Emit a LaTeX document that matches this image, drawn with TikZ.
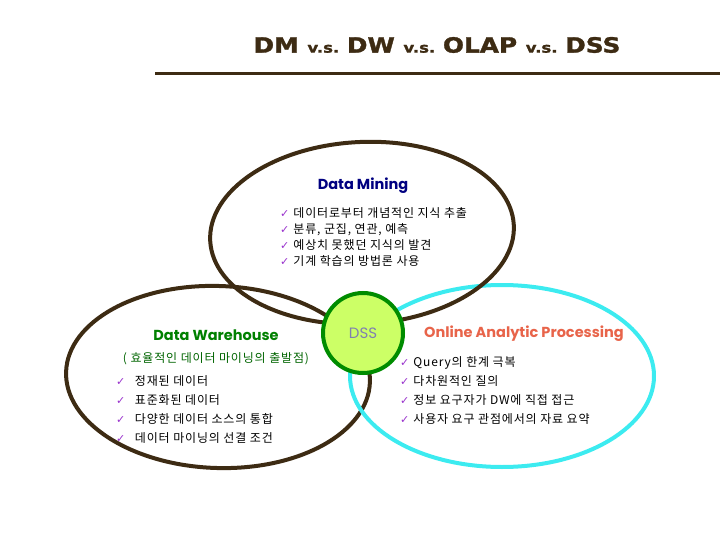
\documentclass[tikz,border=0pt]{standalone}
\usepackage{fontspec}
\usepackage{tikz}
\usetikzlibrary{positioning,shapes.geometric}
\newfontfamily\krfont[LetterSpace=7]{Noto Sans CJK KR}
\newfontfamily\headfont{Poppins}
\newfontfamily\titlefont[FakeStretch=1.18,FakeBold=1.5]{DejaVu Sans}
\newfontfamily\symfont{DejaVu Sans}
\definecolor{bark}{RGB}{61,43,19}
\definecolor{aqua}{RGB}{60,235,240}
\definecolor{leafline}{RGB}{0,140,0}
\definecolor{leaffill}{RGB}{204,255,102}
\definecolor{navyhead}{RGB}{0,0,128}
\definecolor{greenhead}{RGB}{0,128,0}
\definecolor{darkgreen}{RGB}{0,100,0}
\definecolor{coral}{RGB}{232,100,74}
\definecolor{dssgray}{RGB}{128,128,176}
\definecolor{tick}{RGB}{153,51,204}
\newcommand{\ck}[1][4pt]{{\symfont\fontsize{11}{11}\selectfont\color{tick}✓}\hspace{#1}}
\tikzset{
  ring/.style={ellipse,draw=bark,line width=4pt,minimum width=304pt,minimum height=182pt,inner sep=0pt},
  head/.style={font=\headfont\bfseries\fontsize{14.5}{17}\selectfont,inner sep=0pt},
  items/.style={font=\krfont\fontsize{12}{16}\selectfont,align=left,inner sep=0pt,anchor=north west},
}
\begin{document}
\begin{tikzpicture}[x=1pt,y=-1pt]
\useasboundingbox (0,0) rectangle (720,540);
% title
\node[font=\titlefont\bfseries,text=bark,inner sep=0pt] (title) at (437,45)
  {\fontsize{21}{24}\selectfont DM \fontsize{14}{16}\selectfont v.s. \fontsize{21}{24}\selectfont DW \fontsize{14}{16}\selectfont v.s. \fontsize{21}{24}\selectfont OLAP \fontsize{14}{16}\selectfont v.s. \fontsize{21}{24}\selectfont DSS};
\coordinate (rulel) at (155,74);
\coordinate (ruler) at (720,74);
\draw[bark,line width=3pt] (rulel) -- (ruler);
% the three rings
\node[ring,rotate=-2] (dw) at (218,377) {};
\node[ring,draw=aqua] (olap) at (502,376) {};
\node[ring,rotate=3] (dm) at (362,233) {};
\node[circle,draw=leafline,line width=4pt,fill=leaffill,minimum size=80pt,inner sep=0pt] (dss) at (363,333) {};
\node[head,font=\headfont\fontsize{15}{17}\selectfont,text=dssgray] (dsslabel) at (dss) {DSS};
% Data Mining
\node[head,text=navyhead] (dmhead) at (363,186) {Data Mining};
\node[items] (dmlist) at (280,207) {\ck 데이터로부터 개념적인 지식 추출\\\ck 분류, 군집, 연관, 예측\\\ck 예상치 못했던 지식의 발견\\\ck 기계 학습의 방법론 사용};
% Data Warehouse
\node[head,text=greenhead] (dwhead) at (216,335) {Data Warehouse};
\node[font=\krfont\fontsize{12}{14}\selectfont,text=darkgreen,inner sep=0pt,below=12pt of dwhead.south] (dwsub) {( 효율적인 데이터 마이닝의 출발점)};
\node[items,font=\krfont\fontsize{12}{19}\selectfont] (dwlist) at (116,375) {\ck[6pt] 정재된 데이터\\\ck[6pt] 표준화된 데이터\\\ck[6pt] 다양한 데이터 소스의 통합\\\ck[6pt] 데이터 마이닝의 선결 조건};
% OLAP
\node[head,text=coral] (olaphead) at (524,334) {Online Analytic Processing};
\node[items,font=\krfont\fontsize{12}{19}\selectfont] (olaplist) at (400,356) {\ck Query의 한계 극복\\\ck 다차원적인 질의\\\ck 정보 요구자가 DW에 직접 접근\\\ck 사용자 요구 관점에서의 자료 요약};
\end{tikzpicture}
\end{document}
